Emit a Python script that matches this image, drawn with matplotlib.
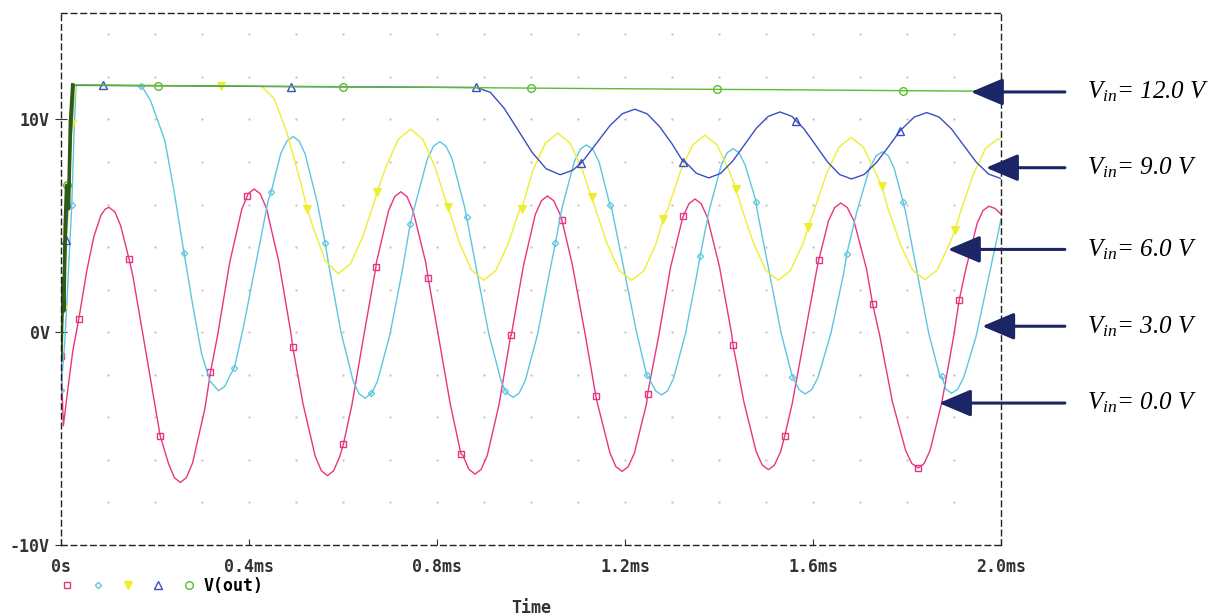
import numpy as np
import matplotlib.pyplot as plt
from matplotlib.lines import Line2D

plt.rcParams['mathtext.fontset'] = 'custom'
plt.rcParams['mathtext.it'] = 'Liberation Serif:italic'
plt.rcParams['mathtext.rm'] = 'Liberation Serif:italic'

# time in ms, voltage in V
t_pink = [0, 0.005, 0.015, 0.025, 0.038, 0.055, 0.070, 0.085, 0.094, 0.102,
          0.1147, 0.127, 0.153, 0.178, 0.203, 0.229, 0.2413, 0.254,
          0.2671, 0.280, 0.306, 0.333, 0.359, 0.385, 0.3979, 0.411,
          0.424, 0.437, 0.463, 0.489, 0.515, 0.541, 0.554, 0.567,
          0.580, 0.593, 0.619, 0.645, 0.671, 0.697, 0.710, 0.723,
          0.7362, 0.749, 0.776, 0.802, 0.828, 0.855, 0.8678, 0.881,
          0.8938, 0.907, 0.932, 0.958, 0.984, 1.009, 1.0222, 1.035,
          1.0483, 1.062, 1.088, 1.115, 1.141, 1.168, 1.1807, 1.194,
          1.2069, 1.220, 1.246, 1.272, 1.297, 1.323, 1.3361, 1.349,
          1.362, 1.375, 1.401, 1.427, 1.453, 1.479, 1.492, 1.505,
          1.5178, 1.531, 1.556, 1.582, 1.608, 1.633, 1.6462, 1.659,
          1.6728, 1.687, 1.714, 1.742, 1.769, 1.797, 1.8102, 1.824,
          1.8365, 1.849, 1.874, 1.899, 1.924, 1.949, 1.9615, 1.974,
          1.987, 2.0]
v_pink = [-1.1, -4.4, -2.6, -0.9, 0.64, 2.9, 4.5, 5.5, 5.78, 5.87,
          5.65, 5.00, 2.64, -0.60, -3.83, -6.19, -6.84, -7.06,
          -6.83, -6.14, -3.61, -0.17, 3.28, 5.81, 6.50, 6.73,
          6.50, 5.83, 3.36, -0.01, -3.37, -5.84, -6.51, -6.74,
          -6.51, -5.85, -3.41, -0.07, 3.27, 5.71, 6.37, 6.60,
          6.37, 5.71, 3.28, -0.04, -3.35, -5.78, -6.44, -6.67,
          -6.45, -5.79, -3.40, -0.14, 3.13, 5.52, 6.18, 6.40,
          6.18, 5.53, 3.17, -0.07, -3.31, -5.67, -6.32, -6.54,
          -6.32, -5.68, -3.34, -0.14, 3.06, 5.40, 6.04, 6.26,
          6.04, 5.41, 3.08, -0.10, -3.28, -5.61, -6.24, -6.46,
          -6.25, -5.62, -3.33, -0.20, 2.94, 5.23, 5.86, 6.07,
          5.86, 5.24, 2.96, -0.16, -3.27, -5.55, -6.17, -6.38,
          -6.17, -5.56, -3.31, -0.23, 2.85, 5.10, 5.71, 5.92,
          5.82, 5.55]
t_pink_mk = [0, 0.038, 0.145, 0.211, 0.318, 0.396, 0.493, 0.601, 0.670, 0.781, 0.851,
             0.957, 1.066, 1.138, 1.248, 1.324, 1.430, 1.540, 1.612, 1.727, 1.824, 1.911]
v_pink_mk = [-1.1, 0.64, 3.42, -4.86, -1.89, 6.38, -0.69, -5.25, 3.06, 2.56, -5.73,
             -0.14, 5.25, -3.0, -2.9, 5.45, -0.61, -4.87, 3.37, 1.31, -6.38, 1.5]

t_cyan = [0, 0.008, 0.015, 0.023, 0.028, 0.032, 0.165, 0.175, 0.19, 0.205,
          0.221, 0.24, 0.262, 0.28, 0.299, 0.317, 0.335,
          0.3483, 0.3615, 0.388, 0.4145, 0.441, 0.4675, 0.4807, 0.494,
          0.5068, 0.5195, 0.545, 0.5705, 0.596, 0.6215, 0.6343, 0.647,
          0.6603, 0.6735, 0.700, 0.7265, 0.753, 0.7795, 0.7928, 0.806,
          0.819, 0.832, 0.858, 0.884, 0.910, 0.936, 0.949, 0.962,
          0.975, 0.988, 1.014, 1.040, 1.066, 1.092, 1.105, 1.118,
          1.1313, 1.1447, 1.1713, 1.198, 1.2247, 1.2513, 1.2647, 1.278,
          1.2907, 1.3033, 1.3287, 1.354, 1.3793, 1.4047, 1.4173, 1.430,
          1.4428, 1.4555, 1.481, 1.5065, 1.532, 1.5575, 1.5703, 1.583,
          1.5968, 1.6105, 1.638, 1.6655, 1.693, 1.7205, 1.7343, 1.748,
          1.7603, 1.7725, 1.797, 1.8215, 1.846, 1.8705, 1.8828, 1.895,
          1.908, 1.921, 1.947, 1.972, 2.0]
v_cyan = [-2.7, -0.5, 2.5, 6.0, 9.5, 11.6, 11.58, 11.45, 10.9, 10.0,
          9.0, 6.7, 3.7, 1.3, -1.0, -2.3, -2.75,
          -2.55, -1.95, 0.23, 3.22, 6.21, 8.39, 8.99, 9.19,
          8.98, 8.37, 6.12, 3.05, -0.03, -2.28, -2.89, -3.10,
          -2.90, -2.29, -0.09, 2.93, 5.94, 8.14, 8.75, 8.95,
          8.75, 8.15, 5.95, 2.95, -0.06, -2.26, -2.86, -3.06,
          -2.86, -2.26, -0.10, 2.87, 5.84, 8.01, 8.60, 8.80,
          8.60, 8.01, 5.86, 2.93, -0.01, -2.16, -2.75, -2.95,
          -2.75, -2.17, -0.06, 2.84, 5.74, 7.85, 8.43, 8.63,
          8.43, 7.86, 5.75, 2.87, -0.02, -2.13, -2.70, -2.90,
          -2.71, -2.14, -0.06, 2.79, 5.64, 7.72, 8.29, 8.48,
          8.29, 7.72, 5.64, 2.81, -0.03, -2.11, -2.68, -2.87,
          -2.68, -2.10, -0.20, 2.40, 5.30]
t_cyan_mk = [0, 0.023, 0.170, 0.262, 0.369, 0.447, 0.562, 0.660, 0.743, 0.863, 0.945,
             1.052, 1.168, 1.246, 1.360, 1.479, 1.556, 1.672, 1.792, 1.874]
v_cyan_mk = [-2.7, 6.0, 11.55, 3.71, -1.67, 6.57, 4.2, -2.87, 5.09, 5.40, -2.75,
             4.20, 5.98, -2.0, 3.6, 6.14, -2.09, 3.69, 6.10, -2.06]

t_yellow = [0, 0.005, 0.015, 0.024, 0.031, 0.427, 0.454, 0.481, 0.5085, 0.536, 0.5628, 0.590,
            0.6157, 0.6413, 0.667, 0.6927, 0.7183, 0.744,
            0.7698, 0.7957, 0.8215, 0.8473, 0.8732, 0.899,
            0.9253, 0.9517, 0.978, 1.0043, 1.0307, 1.057,
            1.0832, 1.1093, 1.1355, 1.1617, 1.1878, 1.214,
            1.240, 1.266, 1.292, 1.318, 1.344, 1.370,
            1.396, 1.422, 1.448, 1.474, 1.500, 1.526,
            1.5518, 1.5777, 1.6035, 1.6293, 1.6552, 1.681,
            1.7072, 1.7333, 1.7595, 1.7857, 1.8118, 1.838,
            1.8638, 1.8897, 1.9155, 1.9413, 1.9672, 1.993, 2.0]
v_yellow = [-0.5, 1.1, 5.5, 9.77, 11.6, 11.56, 10.96, 9.35, 7.15, 4.95, 3.34, 2.75,
            3.21, 4.45, 6.15, 7.84, 9.08, 9.54,
            9.06, 7.77, 5.99, 4.22, 2.92, 2.44,
            2.90, 4.17, 5.90, 7.62, 8.89, 9.35,
            8.89, 7.62, 5.90, 4.17, 2.90, 2.44,
            2.89, 4.15, 5.85, 7.56, 8.80, 9.26,
            8.80, 7.56, 5.85, 4.15, 2.89, 2.44,
            2.89, 4.12, 5.80, 7.47, 8.70, 9.15,
            8.70, 7.48, 5.81, 4.14, 2.92, 2.47,
            2.91, 4.12, 5.78, 7.43, 8.64, 9.08, 9.07]
t_yellow_mk = [0.005, 0.024, 0.340, 0.524, 0.672, 0.824, 0.980, 1.129, 1.281, 1.436, 1.590, 1.746, 1.902]
v_yellow_mk = [1.1, 9.77, 11.58, 5.79, 6.57, 5.87, 5.79, 6.34, 5.33, 6.73, 4.93, 6.89, 4.78]

t_blue = [0, 0.011, 0.020, 0.028, 0.884, 0.9137, 0.9433, 0.973, 1.0027, 1.0323, 1.062,
          1.0885, 1.115, 1.1415, 1.168, 1.1945, 1.221,
          1.2472, 1.2733, 1.2995, 1.3257, 1.3518, 1.378,
          1.4033, 1.4287, 1.454, 1.4793, 1.5047, 1.530,
          1.5553, 1.5807, 1.606, 1.6313, 1.6567, 1.682,
          1.7087, 1.7353, 1.762, 1.7887, 1.8153, 1.842,
          1.8683, 1.8947, 1.921, 1.9473, 1.9737, 2.0]
v_blue = [-1.0, 4.34, 8.5, 11.6, 11.5, 11.27, 10.51, 9.48, 8.44, 7.68, 7.40,
          7.61, 8.17, 8.94, 9.71, 10.27, 10.48,
          10.26, 9.67, 8.87, 8.06, 7.47, 7.25,
          7.46, 8.03, 8.80, 9.58, 10.14, 10.35,
          10.14, 9.56, 8.78, 7.99, 7.41, 7.20,
          7.41, 7.98, 8.76, 9.54, 10.11, 10.32,
          10.11, 9.55, 8.77, 7.99, 7.43, 7.22]
t_blue_mk = [0.011, 0.090, 0.489, 0.883, 1.106, 1.324, 1.564, 1.785]
v_blue_mk = [4.34, 11.6, 11.54, 11.5, 7.93, 8.0, 9.93, 9.46]

t_green = [0, 0.003, 0.006, 0.009, 0.012, 0.016, 0.020, 0.025, 0.5, 1.0, 1.5, 2.0]
v_green = [-1.3, 2.5, 1.0, 5.0, 6.9, 5.8, 9.8, 11.62, 11.55, 11.47, 11.40, 11.32]
t_green_mk = [0.012, 0.206, 0.601, 0.999, 1.395, 1.792]
v_green_mk = [6.9, 11.59, 11.54, 11.47, 11.41, 11.35]

# labels on the right: Vin value, level of the arrow (V), arrow tip (ms)
vin_values = [12.0, 9.0, 6.0, 3.0, 0.0]
arrow_levels = [11.29, 7.73, 3.89, 0.28, -3.33]
arrow_tips = [1.936, 1.968, 1.887, 1.960, 1.868]

x_ticks = [0, 0.4, 0.8, 1.2, 1.6, 2.0]
x_ticklabels = ['0s', '0.4ms', '0.8ms', '1.2ms', '1.6ms', '2.0ms']
y_ticks = [-10, 0, 10]
y_ticklabels = ['-10V', '0V', '10V']

c_pink, c_cyan, c_yellow, c_blue, c_green = '#e8357f', '#5cc6e0', '#eeee30', '#3a4fc0', '#5cbd2e'
navy = '#1c2566'
mono = dict(family='DejaVu Sans Mono', weight='bold', size=12, color='#333333')


def with_marks(t, v, tm, vm):
    # put the marker samples into the trace so the markers sit on the line
    tt = np.concatenate([t, tm])
    vv = np.concatenate([v, vm])
    flag = np.r_[np.zeros(len(t)), np.ones(len(tm))]
    order = np.argsort(tt, kind='stable')
    return tt[order], vv[order], list(np.flatnonzero(flag[order]))


fig = plt.figure(figsize=(12.15, 6.16), dpi=100)
ax = fig.add_axes([61/1215, 71/616, 940/1215, 532/616])

# faint dot grid like the PSpice probe window
gx, gy = np.meshgrid(np.arange(0.1, 2.0, 0.1), np.arange(-8, 15, 2))
ax.plot(gx.ravel(), gy.ravel(), linestyle='none', marker='.', ms=1.3, color='#c4c4c4')

traces = [(t_pink, v_pink, t_pink_mk, v_pink_mk, c_pink, dict(marker='s', ms=4.5, mfc='none', mew=1.0)),
          (t_cyan, v_cyan, t_cyan_mk, v_cyan_mk, c_cyan, dict(marker='D', ms=3.2, mfc='none', mew=0.9)),
          (t_yellow, v_yellow, t_yellow_mk, v_yellow_mk, c_yellow, dict(marker='v', ms=6, mfc=c_yellow, mew=0.8)),
          (t_blue, v_blue, t_blue_mk, v_blue_mk, c_blue, dict(marker='^', ms=6, mfc='none', mew=1.0)),
          (t_green, v_green, t_green_mk, v_green_mk, c_green, dict(marker='o', ms=5.5, mfc='none', mew=1.0))]
for t, v, tm, vm, col, mk in traces:
    tt, vv, idx = with_marks(t, v, tm, vm)
    ax.plot(tt, vv, color=col, lw=1.0, markevery=idx, **mk)
ax.plot(t_green[:8], v_green[:8], color='#2f5a16', lw=2.6)

ax.set_xlim(0, 2.0)
ax.set_ylim(-10, 15)
ax.set_xticks(x_ticks)
ax.set_xticklabels(x_ticklabels, fontdict=mono)
ax.set_yticks(y_ticks)
ax.set_yticklabels(y_ticklabels, fontdict=mono)
ax.tick_params(axis='x', direction='in', length=4, pad=9, color='#333333')
ax.tick_params(axis='y', direction='inout', length=8, pad=4, color='#333333')
ax.set_xlabel('Time', fontdict=mono, labelpad=17)

for s in ax.spines.values():
    s.set_linestyle((0, (4, 3)))
    s.set_linewidth(1.0)
    s.set_color('#222222')

for val, lev, tip in zip(vin_values, arrow_levels, arrow_tips):
    ax.annotate('', xy=(tip, lev), xytext=(2.136, lev), annotation_clip=False,
                arrowprops=dict(arrowstyle='-|>,head_length=0.9,head_width=0.38', color=navy,
                                lw=2.2, mutation_scale=22, shrinkA=0, shrinkB=0))
    ax.text(2.183, lev, rf'$V_{{in}}$= {val:.1f} V', fontsize=18, family='Liberation Serif',
            style='italic', va='center', ha='left', clip_on=False)

handles = [Line2D([], [], color=c_pink, marker='s', ms=4.5, mfc='none', ls='none'),
           Line2D([], [], color=c_cyan, marker='D', ms=3.2, mfc='none', ls='none'),
           Line2D([], [], color=c_yellow, marker='v', ms=6, mfc=c_yellow, ls='none'),
           Line2D([], [], color=c_blue, marker='^', ms=6, mfc='none', ls='none'),
           Line2D([], [], color=c_green, marker='o', ms=5.5, mfc='none', ls='none')]
fig.legend(handles, ['', '', '', '', 'V(out)'], ncol=5, frameon=False, loc='center left',
           bbox_to_anchor=(59/1215, 1 - 586/616), prop=dict(family='DejaVu Sans Mono', weight='bold', size=12),
           handlelength=1.0, handletextpad=0.4, columnspacing=0.42, borderpad=0, borderaxespad=0)

fig.savefig('out.png', dpi=100)
